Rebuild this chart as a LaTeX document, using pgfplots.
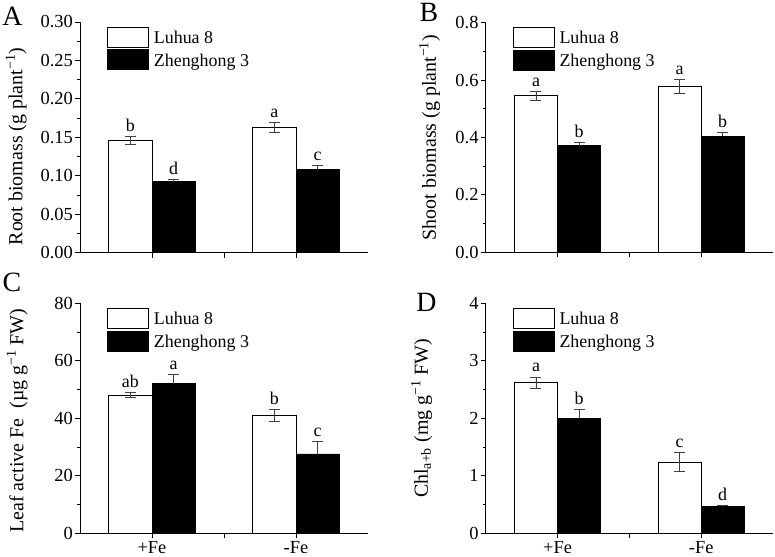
\documentclass[border=0pt]{standalone}
\usepackage{fontspec}
\setmainfont{Liberation Serif}
\usepackage{pgfplots}
\pgfplotsset{compat=1.18}
\newcommand{\fs}{\fontsize{18}{21}\selectfont}
\newcommand{\tfs}{\fontsize{18.5}{21}\selectfont}
\newcommand{\lfs}{\fontsize{20}{23}\selectfont}
\newcommand{\supr}[1]{\textsuperscript{#1}}
\tikzset{letter/.style={anchor=base, yshift=5bp, font=\fs, inner sep=0pt}}
\pgfplotsset{
 panel/.style={
  scale only axis,
  axis x line*=bottom, axis y line*=left,
  xmin=0.5, xmax=2.5, xtick={1,1.5,2}, xticklabels={},
  ymin=0,
  tick align=outside,
  major tick length=5bp, minor tick length=3bp,
  minor y tick num=1,
  every tick/.style={black, line width=0.8bp},
  axis line style={black, line width=0.8bp},
  tick label style={font=\tfs},
  yticklabel style={inner xsep=2bp},
  label style={font=\lfs},
  /pgf/number format/assume math mode=true,
  scaled y ticks=false,
  clip=false,
  legend style={draw=none, fill=none, inner sep=0pt, outer sep=0pt,
    anchor=north west, at={(axis description cs:0.094,0.98)}, row sep=2bp,
    nodes={inner xsep=5bp, inner ysep=0pt, text height=12.5bp, text depth=0pt, font=\fs},
    cells={anchor=west}},
 },
 white bars/.style={ybar, bar width=0.3, bar shift=0, fill=white, draw=black, line width=0.8bp,
   legend image code/.code={\draw[fill=white, draw=black, line width=0.8bp] (0bp,-10bp) rectangle (41bp,10bp);},
   /pgfplots/error bars/y dir=both, /pgfplots/error bars/y explicit,
   /pgfplots/error bars/error bar style={black!75, line width=0.8bp},
   /pgfplots/error bars/error mark options={rotate=90, black!75, line width=0.8bp, mark size=5.5bp}},
 black bars/.style={ybar, bar width=0.3, bar shift=0, fill=black, draw=black, line width=0.8bp,
   legend image code/.code={\draw[fill=black, draw=black, line width=0.8bp] (0bp,-10bp) rectangle (41bp,10bp);},
   /pgfplots/error bars/y dir=plus, /pgfplots/error bars/y explicit,
   /pgfplots/error bars/error bar style={black!75, line width=0.8bp},
   /pgfplots/error bars/error mark options={rotate=90, black!75, line width=0.8bp, mark size=5.5bp}},
}
\begin{document}
\begin{tikzpicture}
\useasboundingbox (0,0) rectangle (775bp,557bp);
% ---------------- A
\begin{axis}[panel, at={(80bp,304.3bp)}, anchor=south west, width=288bp, height=230.7bp,
  ymax=0.30, ytick={0,0.05,...,0.301},
  yticklabel style={/pgf/number format/.cd, fixed, fixed zerofill, precision=2},
  ylabel={Root biomass (g plant\supr{−1})},
  ylabel style={at={(axis description cs:-0.222,0.46)}, anchor=center}]
\addplot[white bars] coordinates {(0.85,0.146) +- (0,0.005) (1.85,0.163) +- (0,0.006)};
\addlegendentry{Luhua 8}
\addplot[black bars] coordinates {(1.15,0.0925) +- (0,0.0025) (2.15,0.1085) +- (0,0.005)};
\addlegendentry{Zhenghong 3}
\node[letter] at (axis cs:0.85,0.151) {b};
\node[letter] at (axis cs:1.15,0.095) {d};
\node[letter] at (axis cs:1.85,0.169) {a};
\node[letter] at (axis cs:2.15,0.1135) {c};
\end{axis}
% ---------------- B
\begin{axis}[panel, at={(485.7bp,304.7bp)}, anchor=south west, width=287.3bp, height=229.6bp,
  ymax=0.8, ytick={0,0.2,...,0.81},
  yticklabel style={/pgf/number format/.cd, fixed, fixed zerofill, precision=1},
  ylabel={Shoot biomass (g plant\supr{−1})},
  ylabel style={at={(axis description cs:-0.195,0.5)}, anchor=center}]
\addplot[white bars] coordinates {(0.85,0.545) +- (0,0.016) (1.85,0.578) +- (0,0.023)};
\addlegendentry{Luhua 8}
\addplot[black bars] coordinates {(1.15,0.371) +- (0,0.012) (2.15,0.404) +- (0,0.014)};
\addlegendentry{Zhenghong 3}
\node[letter] at (axis cs:0.85,0.561) {a};
\node[letter] at (axis cs:1.15,0.383) {b};
\node[letter] at (axis cs:1.85,0.601) {a};
\node[letter] at (axis cs:2.15,0.418) {b};
\end{axis}
% ---------------- C
\begin{axis}[panel, at={(80bp,23.7bp)}, anchor=south west, width=288bp, height=230bp,
  ymax=80, ytick={0,20,...,80},
  xticklabels={+Fe,,-Fe},
  ylabel={Leaf active Fe\ \ (µg g\supr{−1} FW)},
  ylabel style={at={(axis description cs:-0.218,0.49)}, anchor=center}]
\addplot[white bars] coordinates {(0.85,48.0) +- (0,0.9) (1.85,41.0) +- (0,2.0)};
\addlegendentry{Luhua 8}
\addplot[black bars] coordinates {(1.15,52.0) +- (0,3.3) (2.15,27.6) +- (0,4.4)};
\addlegendentry{Zhenghong 3}
\node[letter] at (axis cs:0.85,48.9) {ab};
\node[letter] at (axis cs:1.15,55.3) {a};
\node[letter] at (axis cs:1.85,43.0) {b};
\node[letter] at (axis cs:2.15,32.0) {c};
\end{axis}
% ---------------- D
\begin{axis}[panel, at={(485.7bp,23.7bp)}, anchor=south west, width=287.3bp, height=230bp,
  ymax=4, ytick={0,1,...,4},
  xticklabels={+Fe,,-Fe},
  ylabel={Chl\textsubscript{a+b} (mg g\supr{−1} FW)},
  ylabel style={at={(axis description cs:-0.223,0.5)}, anchor=center}]
\addplot[white bars] coordinates {(0.85,2.62) +- (0,0.10) (1.85,1.235) +- (0,0.165)};
\addlegendentry{Luhua 8}
\addplot[black bars] coordinates {(1.15,2.00) +- (0,0.15) (2.15,0.47) +- (0,0.01)};
\addlegendentry{Zhenghong 3}
\node[letter] at (axis cs:0.85,2.72) {a};
\node[letter] at (axis cs:1.15,2.15) {b};
\node[letter] at (axis cs:1.85,1.40) {c};
\node[letter] at (axis cs:2.15,0.48) {d};
\end{axis}
% panel letters
\node[font=\fontsize{28}{30}\selectfont, inner sep=0pt] at (12.5bp,540.5bp) {A};
\node[font=\fontsize{28}{30}\selectfont, inner sep=0pt] at (429bp,544.5bp) {B};
\node[font=\fontsize{28}{30}\selectfont, inner sep=0pt] at (12bp,274.5bp) {C};
\node[font=\fontsize{28}{30}\selectfont, inner sep=0pt] at (426.5bp,255bp) {D};
\end{tikzpicture}
\end{document}
